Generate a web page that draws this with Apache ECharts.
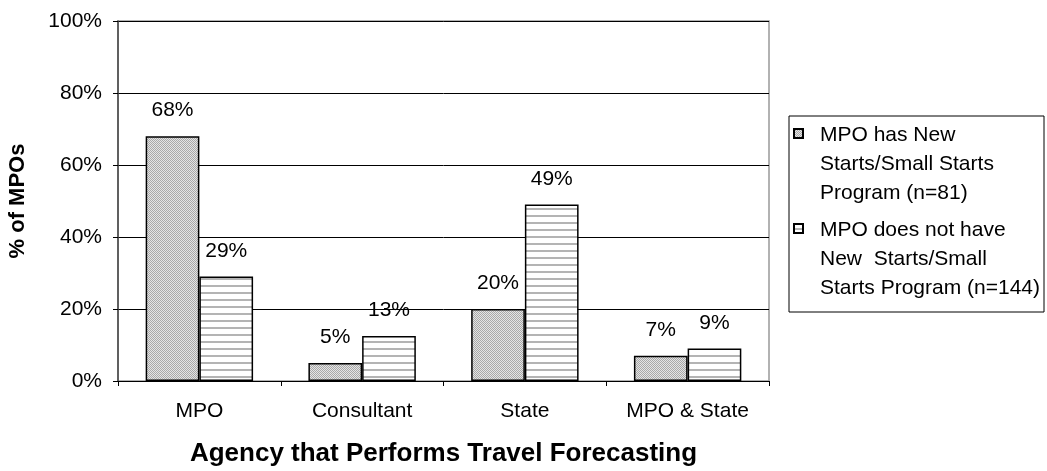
<!DOCTYPE html>
<html>
<head>
<meta charset="utf-8">
<script src="https://cdn.jsdelivr.net/npm/echarts@6/dist/echarts.min.js"></script>
<style>
    html, body { margin: 0; padding: 0; background: #fff; }
    #chart { width: 1047px; height: 471px; }
</style>
</head>
<body>
<div id="chart"></div>
<script>
// data
const categories = ['MPO', 'Consultant', 'State', 'MPO & State']
const hasProgram = [68, 5, 20, 7]
const noProgram = [29, 12.5, 49, 9]
const seriesNames = [
    'MPO has New\nStarts/Small Starts\nProgram (n=81)',
    'MPO does not have\nNew  Starts/Small\nStarts Program (n=144)'
]
const yTicks = [0, 20, 40, 60, 80, 100]

const font = 'Liberation Sans, Arial, sans-serif'

// dotted fill (first series)
function dotPattern () {
    let c = document.createElement('canvas')
    c.width = 2
    c.height = 2
    let ctx = c.getContext('2d')
    ctx.fillStyle = '#e4e4e4'
    ctx.fillRect(0, 0, 2, 2)
    ctx.fillStyle = '#a8a8a8'
    ctx.fillRect(0, 0, 1, 1)
    ctx.fillRect(1, 1, 1, 1)
    return c
}
// horizontal stripes (second series)
function stripePattern () {
    let c = document.createElement('canvas')
    c.width = 4
    c.height = 7
    let ctx = c.getContext('2d')
    ctx.fillStyle = '#ffffff'
    ctx.fillRect(0, 0, 4, 7)
    ctx.fillStyle = '#b4b4b4'
    ctx.fillRect(0, 5, 4, 2)
    return c
}

let chart = echarts.init(document.getElementById('chart'))

let labelStyle = {
    show: true,
    position: 'top',
    distance: 15,
    color: '#000',
    fontFamily: font,
    fontSize: 21,
    formatter: p => Math.round(p.value) + '%'
}

// legend icon: small square at top-left of a tall (3-line) item box
const legendIcon = 'path://M0,0M0,8h9v9h-9zM21,87'

let option = {
    animation: false,
    textStyle: { fontFamily: font },
    grid: {
        left: 118,
        right: 278,
        top: 21,
        bottom: 90,
        containLabel: false,
        outerBoundsMode: 'none',
        show: true,
        borderColor: '#999',
        borderWidth: 1.5
    },
    legend: {
        orient: 'vertical',
        left: 789,
        top: 116,
        padding: [4, 4, 8, 4],
        itemGap: 6,
        itemWidth: 21,
        itemHeight: 87,
        icon: legendIcon,
        borderColor: '#000',
        borderWidth: 1,
        backgroundColor: '#fff',
        textStyle: {
            color: '#000',
            fontFamily: font,
            fontSize: 21,
            lineHeight: 29
        },
        data: seriesNames
    },
    xAxis: {
        type: 'category',
        data: categories,
        name: 'Agency that Performs Travel Forecasting',
        nameLocation: 'middle',
        nameGap: 60,
        nameTextStyle: { color: '#000', fontSize: 26, fontWeight: 'bold', fontFamily: font },
        axisLine: { lineStyle: { color: '#000', width: 1 } },
        axisTick: { show: true, length: 5, lineStyle: { color: '#000' } },
        axisLabel: { color: '#000', fontSize: 21, margin: 20, fontFamily: font }
    },
    yAxis: {
        type: 'value',
        min: yTicks[0],
        max: yTicks[yTicks.length - 1],
        interval: 20,
        name: '% of MPOs',
        nameLocation: 'middle',
        nameGap: 89,
        nameTextStyle: { color: '#000', fontSize: 22, fontWeight: 'bold', fontFamily: font },
        axisLine: { show: true, lineStyle: { color: '#444', width: 1.5 } },
        axisTick: { show: true, inside: false, length: 5, lineStyle: { color: '#000' } },
        axisLabel: { color: '#000', fontSize: 21, margin: 16, fontFamily: font, formatter: '{value}%' },
        splitLine: { show: true, lineStyle: { color: '#000', width: 1 } }
    },
    series: [{
        name: seriesNames[0],
        type: 'bar',
        data: hasProgram,
        barGap: '0%',
        barCategoryGap: '34%',
        itemStyle: {
            color: { image: dotPattern(), repeat: 'repeat' },
            borderColor: '#000',
            borderWidth: 1.5
        },
        label: labelStyle
    }, {
        name: seriesNames[1],
        type: 'bar',
        data: noProgram,
        barGap: '0%',
        barCategoryGap: '34%',
        itemStyle: {
            color: { image: stripePattern(), repeat: 'repeat' },
            borderColor: '#000',
            borderWidth: 1.5
        },
        label: labelStyle
    }]
}

chart.setOption(option)
</script>
</body>
</html>
